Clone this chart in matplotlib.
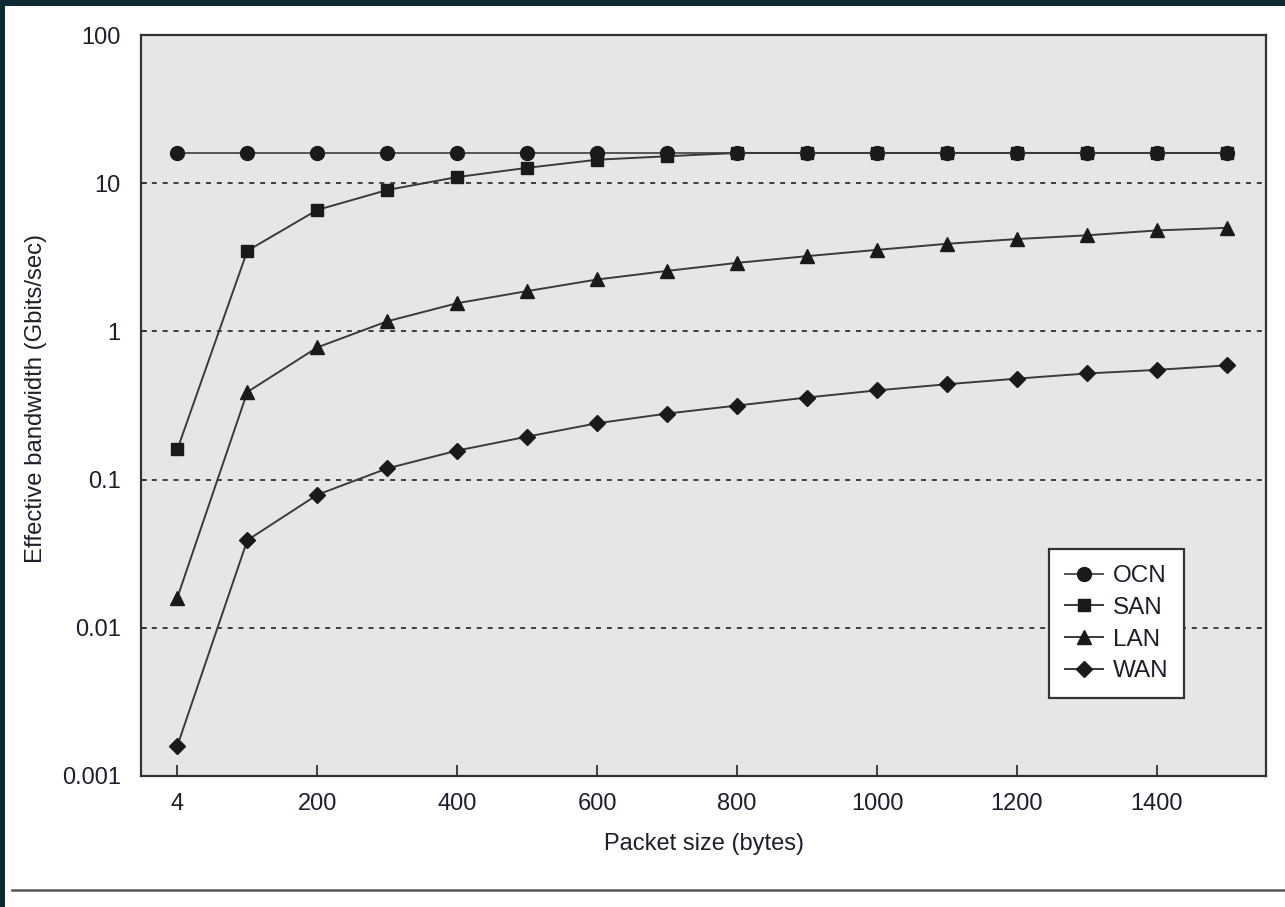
import numpy as np
import matplotlib
matplotlib.use("Agg")
import matplotlib.pyplot as plt
from matplotlib.lines import Line2D
from matplotlib.patches import Rectangle

# packet sizes (bytes), plotted evenly spaced
sizes = [4, 100, 200, 300, 400, 500, 600, 700, 800, 900, 1000, 1100, 1200, 1300, 1400, 1500]
tick_sizes = [4, 200, 400, 600, 800, 1000, 1200, 1400]

# effective bandwidth (Gbits/sec)
ocn = [16, 16, 16, 16, 16, 16, 16, 16, 16, 16, 16, 16, 16, 16, 16, 16]
san = [0.16, 3.5, 6.6, 9.0, 11.0, 12.7, 14.4, 15.2, 16, 16, 16, 16, 16, 16, 16, 16]
lan = [0.016, 0.39, 0.78, 1.17, 1.55, 1.87, 2.24, 2.56, 2.9, 3.22, 3.55, 3.9, 4.2, 4.45, 4.8, 5.0]
wan = [0.0016, 0.039, 0.079, 0.119, 0.157, 0.195, 0.24, 0.279, 0.316, 0.358, 0.40, 0.44, 0.48, 0.52, 0.55, 0.59]

series = [("OCN", ocn, "o", 10), ("SAN", san, "s", 8.5), ("LAN", lan, "^", 10), ("WAN", wan, "D", 8)]

plt.rcParams["font.family"] = ["Liberation Sans", "DejaVu Sans"]
txt = "#1e1e2c"

fig = plt.figure(figsize=(12.85, 9.07), dpi=100)
fig.patch.set_facecolor("white")
# dark slide edge on top and left
fig.patches.append(Rectangle((0, 1 - 6 / 907), 1, 6 / 907, transform=fig.transFigure,
                             facecolor="#0d2a33", edgecolor="none", zorder=0))
fig.patches.append(Rectangle((0, 0), 4.5 / 1285, 1, transform=fig.transFigure,
                             facecolor="#0d2a33", edgecolor="none", zorder=0))
fig.add_artist(Line2D([12 / 1285, 1], [1 - 890 / 907] * 2, transform=fig.transFigure,
                      color="#555555", lw=1.8))

ax = fig.add_axes([141 / 1285, 1 - 776 / 907, 1125 / 1285, 741 / 907])
ax.set_facecolor("#e6e6e6")
ax.set_yscale("log")
ax.set_ylim(0.001, 100)

xpos = np.arange(len(sizes)) * 100
for name, vals, mk, ms in series:
    lc = "#555555" if name == "OCN" else "#3a3a3a"
    ax.plot(xpos, vals, color=lc, lw=1.4, marker=mk, ms=ms,
            markerfacecolor="#1a1a1a", markeredgecolor="#1a1a1a", label=name, zorder=3)

ax.set_xlim(-52, 1556)
ax.set_xticks([xpos[sizes.index(s)] for s in tick_sizes])
ax.set_xticklabels([str(s) for s in tick_sizes])
ax.set_yticks([0.001, 0.01, 0.1, 1, 10, 100])
ax.set_yticklabels(["0.001", "0.01", "0.1", "1", "10", "100"])
ax.minorticks_off()
ax.tick_params(axis="x", direction="in", length=8, width=1.3, colors="#333333",
               labelcolor=txt, labelsize=17, pad=12.5)
ax.tick_params(axis="y", direction="in", length=4, width=1.2, colors="#333333",
               labelcolor=txt, labelsize=17, pad=14.5)

for g in [0.01, 0.1, 1, 10]:
    ax.axhline(g, color="#222222", lw=1.2, ls=(0, (3, 3.5)), zorder=1)

for sp in ax.spines.values():
    sp.set_color("#333333")
    sp.set_linewidth(1.6)

ax.set_xlabel("Packet size (bytes)", fontsize=17, color=txt, labelpad=13)
ax.set_ylabel("Effective bandwidth (Gbits/sec)", fontsize=17.2, color=txt)
ax.yaxis.set_label_coords(-0.0836, 0.51)

leg = ax.legend(loc="upper left", bbox_to_anchor=(0.807, 0.306), borderaxespad=0,
                fontsize=17.5, frameon=True, fancybox=False, handlelength=1.58,
                handletextpad=0.4, labelspacing=0.4, borderpad=0.65)
leg.get_frame().set_edgecolor("#333333")
leg.get_frame().set_linewidth(1.6)
leg.get_frame().set_facecolor("white")
leg.get_frame().set_alpha(1)
for t in leg.get_texts():
    t.set_color(txt)

fig.savefig("out.png", dpi=100, facecolor="white")
